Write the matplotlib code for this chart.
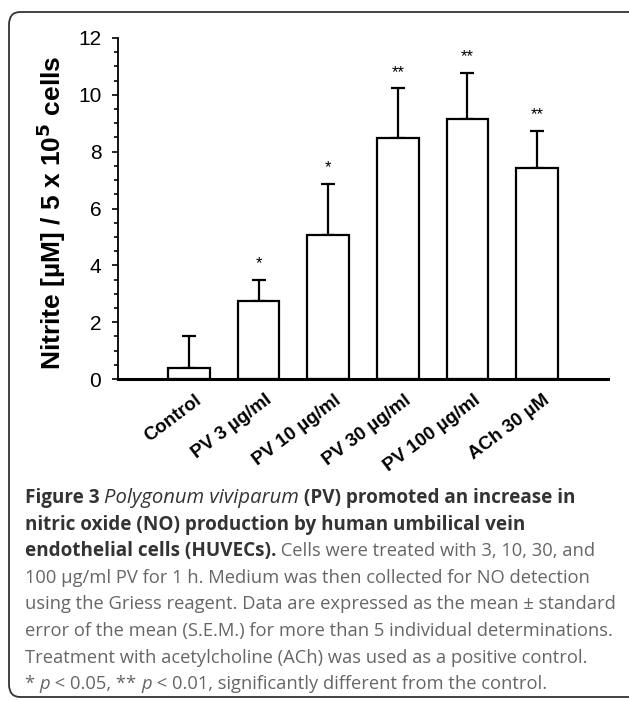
import matplotlib
matplotlib.use("Agg")
import matplotlib.pyplot as plt
import matplotlib.transforms as mtransforms
from matplotlib.patches import FancyBboxPatch
from matplotlib.ticker import MultipleLocator

groups = ["Control", "PV 3 µg/ml", "PV 10 µg/ml", "PV 30 µg/ml", "PV 100 µg/ml", "ACh 30 µM"]
nitrite = [0.38, 2.74, 5.08, 8.49, 9.16, 7.43]
sem = [1.13, 0.74, 1.80, 1.74, 1.61, 1.31]
stars = ["", "*", "*", "**", "**", "**"]

caption = [
    [("Figure 3 ", "bold"), ("Polygonum viviparum", "species"), (" (PV) promoted an increase in", "bold")],
    [("nitric oxide (NO) production by human umbilical vein", "bold")],
    [("endothelial cells (HUVECs).", "bold"), (" Cells were treated with 3, 10, 30, and", "normal")],
    [("100 µg/ml PV for 1 h. Medium was then collected for NO detection", "normal")],
    [("using the Griess reagent. Data are expressed as the mean ± standard", "normal")],
    [("error of the mean (S.E.M.) for more than 5 individual determinations.", "normal")],
    [("Treatment with acetylcholine (ACh) was used as a positive control.", "normal")],
    [("* ", "normal"), ("p", "italic"), (" < 0.05, ** ", "normal"), ("p", "italic"),
     (" < 0.01, significantly different from the control.", "normal")],
]

plt.rcParams["font.family"] = ["Liberation Sans", "DejaVu Sans"]

fig = plt.figure(figsize=(6.29, 7.01), dpi=100)
ax = fig.add_axes([0.1876, 0.4593, 0.779, 0.4865])

x = range(len(groups))
ax.bar(x, nitrite, width=0.6, color="white", edgecolor="black", linewidth=1.6, zorder=2)
ax.errorbar(x, nitrite, yerr=[[0] * len(sem), sem], fmt="none", ecolor="black",
            elinewidth=1.6, capsize=5, capthick=1.6, zorder=1)
for i, s in enumerate(stars):
    if s:
        ax.text(i, nitrite[i] + sem[i] + 0.3, s, ha="center", va="bottom", fontsize=12)

ax.set_xlim(-1.02, 6.02)
ax.set_ylim(0, 12)
ax.yaxis.set_major_locator(MultipleLocator(2))
ax.yaxis.set_minor_locator(MultipleLocator(0.5))
ax.tick_params(axis="y", which="major", length=4, width=1.2, labelsize=15, pad=8)
ax.tick_params(axis="y", which="minor", length=3, width=1.2)
ax.tick_params(axis="x", length=0, pad=9)
ax.set_xticks(list(x))
ax.set_xticklabels(groups, rotation=37, ha="right", rotation_mode="anchor",
                   fontsize=13.5, fontweight="bold")
shift = mtransforms.ScaledTranslation(0.06, 0, fig.dpi_scale_trans)
for lab in ax.get_xticklabels():
    lab.set_transform(lab.get_transform() + shift)
for side in ["top", "right"]:
    ax.spines[side].set_visible(False)
ax.spines["left"].set_linewidth(1.3)
ax.spines["bottom"].set_linewidth(2.2)
ax.set_ylabel("Nitrite [µM] / 5 x 10$^\\mathbf{5}$ cells", fontsize=19, fontweight="bold")
ax.yaxis.set_label_coords(-0.102, 0.487)

# rounded frame around the figure
frame = FancyBboxPatch((9 / 629, 4 / 701), 1.2, (697 - 12) / 701, boxstyle="round,pad=0,rounding_size=0.018",
                       transform=fig.transFigure, fill=False, edgecolor="#333333", linewidth=1.3,
                       clip_on=False)
fig.patches.append(frame)

# caption with mixed styles
fig.canvas.draw()
renderer = fig.canvas.get_renderer()
styles = {
    "bold": dict(fontweight="bold", color="#333333", fontsize=13.6),
    "species": dict(fontstyle="italic", color="#333333", fontsize=14.6),
    "italic": dict(fontstyle="italic", color="#666666", fontsize=13.2),
    "normal": dict(color="#666666", fontsize=13.2),
}
y0 = 1 - 503 / 701
dy = 26.6 / 701
for n, line in enumerate(caption):
    xpos = 25 / 629
    for txt, st in line:
        t = fig.text(xpos, y0 - n * dy, txt, family="Open Sans",
                     ha="left", va="baseline", **styles[st])
        bb = t.get_window_extent(renderer)
        xpos += bb.width / fig.bbox.width

fig.savefig("out.png", dpi=100)
